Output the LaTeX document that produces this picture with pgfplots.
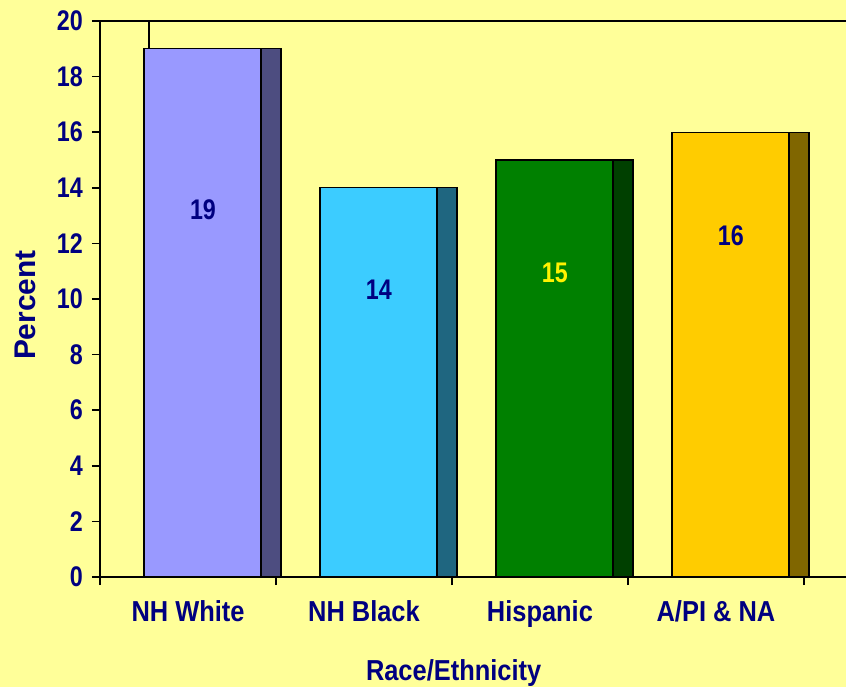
\documentclass[border=0pt]{standalone}
\usepackage{pgfplots}
\pgfplotsset{compat=1.18}
\usepackage{fontspec}
\setmainfont{Liberation Sans}[FakeStretch=0.88]
\newfontfamily\numfont{Liberation Sans}[FakeStretch=0.82]
\newfontfamily\plainsans{Liberation Sans}
\usetikzlibrary{backgrounds}
\definecolor{bg}{HTML}{FFFF99}
\definecolor{navy}{HTML}{000080}
\definecolor{whiteF}{HTML}{9999FF}
\definecolor{whiteS}{HTML}{4D4D80}
\definecolor{blackF}{HTML}{3CCCFF}
\definecolor{blackS}{HTML}{1F6680}
\definecolor{hispF}{HTML}{008000}
\definecolor{hispS}{HTML}{004000}
\definecolor{apiF}{HTML}{FFCC00}
\definecolor{apiS}{HTML}{806600}
\newcommand{\lblfont}{\bfseries\fontsize{29}{29}\selectfont}
\newcommand{\nfont}{\numfont\bfseries\fontsize{28.5}{28.5}\selectfont}
\begin{document}
\begin{tikzpicture}
\begin{axis}[name=ax, scale only axis, width=746bp, height=556bp,
  xmin=-0.5, xmax=3.739, ymin=0, ymax=20, clip=false,
  axis x line=bottom, axis y line=left,
  axis line style={line width=1.5bp, -},
  /pgf/number format/assume math mode=true,
  ytick={0,2,...,20},
  xtick={-0.5,0.5,1.5,2.5,3.5}, xticklabels={},
  extra x ticks={0,1,2,3},
  extra x tick labels={NH White,NH Black,Hispanic,A/PI \& NA},
  extra x tick style={major tick length=0pt},
  tick align=outside, major tick length=8bp,
  tick style={line width=1.5bp, black},
  yticklabel style={font=\nfont, text=navy, anchor=east, inner sep=0pt, xshift=-9bp},
  xticklabel style={font=\lblfont, text=navy, anchor=base, yshift=-44bp},
  xlabel={Race/Ethnicity}, ylabel={Percent},
  xlabel style={at={(axis description cs:0.474,0)}, anchor=base, yshift=-103bp,
    font=\lblfont, text=navy},
  ylabel style={at={(axis description cs:-0.1005,0.489)}, anchor=center,
    font=\plainsans\bfseries\fontsize{30}{30}\selectfont, text=navy},
]
% front faces and dark side faces
\addplot[ybar, bar width=0.67, bar shift=0.085, fill=whiteF, draw=black, line width=1.2bp] coordinates {(0,19)};
\addplot[ybar, bar width=0.114, bar shift=0.472, fill=whiteS, draw=black, line width=1.2bp] coordinates {(0,19)};
\addplot[ybar, bar width=0.67, bar shift=0.085, fill=blackF, draw=black, line width=1.2bp] coordinates {(1,14)};
\addplot[ybar, bar width=0.114, bar shift=0.472, fill=blackS, draw=black, line width=1.2bp] coordinates {(1,14)};
\addplot[ybar, bar width=0.67, bar shift=0.085, fill=hispF, draw=black, line width=1.2bp] coordinates {(2,15)};
\addplot[ybar, bar width=0.114, bar shift=0.472, fill=hispS, draw=black, line width=1.2bp] coordinates {(2,15)};
\addplot[ybar, bar width=0.67, bar shift=0.085, fill=apiF, draw=black, line width=1.2bp] coordinates {(3,16)};
\addplot[ybar, bar width=0.114, bar shift=0.472, fill=apiS, draw=black, line width=1.2bp] coordinates {(3,16)};
% value labels
\addplot[draw=none, nodes near coords, point meta=explicit symbolic,
  nodes near coords style={anchor=center, text=navy, font=\nfont}]
  coordinates {(0.085,13.2)[19] (1.085,10.32)[14] (3.085,12.27)[16]};
\addplot[draw=none, nodes near coords, point meta=explicit symbolic,
  nodes near coords style={anchor=center, text=yellow, font=\nfont}]
  coordinates {(2.085,10.94)[15]};
\draw[line width=1.5bp] (rel axis cs:0,1) -- (rel axis cs:1,1);
\draw[line width=1.5bp] (axis cs:-0.222,19) -- (axis cs:-0.222,20);
\end{axis}
\begin{pgfonlayer}{background}
\fill[bg] ([xshift=-100bp,yshift=-110bp]ax.south west) rectangle ([yshift=21bp]ax.north east);
\end{pgfonlayer}
\pgfresetboundingbox
\path[use as bounding box] ([xshift=-100bp,yshift=-110bp]ax.south west) rectangle ([yshift=21bp]ax.north east);
\end{tikzpicture}
\end{document}
